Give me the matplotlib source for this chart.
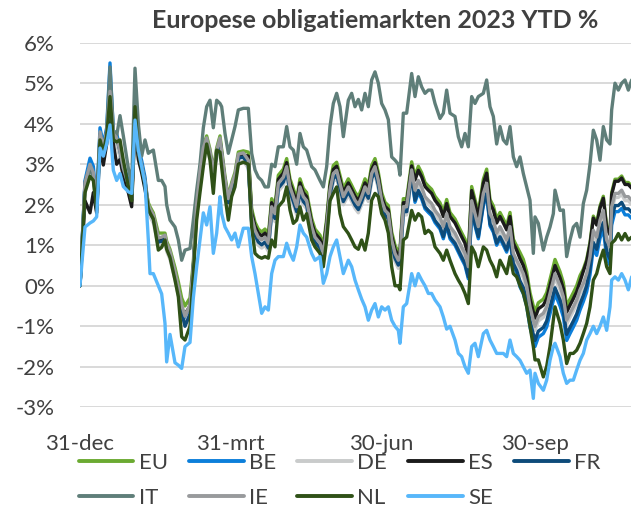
import matplotlib
matplotlib.use("Agg")
import matplotlib.pyplot as plt
import numpy as np
import pandas as pd

# ---------------- data ----------------
title = "Europese obligatiemarkten 2023 YTD %"
start_date = "2022-12-31"
days = [0, 3, 6, 8, 10, 12, 14, 16, 18, 20, 22, 24, 26, 29, 31, 33, 35, 37, 39,
        41, 42, 44, 47, 49, 51, 52, 54, 57, 59, 61, 63, 66, 68, 70, 72, 74, 76, 78, 80, 82, 84, 85, 87, 89, 91, 93, 95, 98,
        101, 103, 105, 107, 109, 111, 113, 115, 117, 119, 122, 124, 126, 128, 130, 132, 134, 136, 139, 141, 144, 146, 148, 150,
        152, 154, 156, 158, 161, 163, 165, 167, 169, 171, 173, 175, 177, 179, 181, 183, 185, 187, 189, 191, 192, 194, 196, 199,
        201, 203, 205, 207, 209, 211, 213, 216, 218, 220, 222, 225, 227, 229, 231, 233, 235, 237, 239, 242, 244, 246, 248, 250,
        252, 254, 256, 258, 260, 262,
        264, 266, 268, 270, 272, 273, 275, 278, 280, 282, 284, 285, 288, 290, 292, 294, 296, 298, 300,
        302, 304, 306, 308, 310, 312, 314, 316, 318, 319, 321, 323, 325, 327, 329, 331]

EU = [0, 2.45, 2.85, 2.65, 1.85, 3.65, 3.3, 3.7, 4.4, 3.63, 3.55, 3.22, 2.8, 2.4, 2.05, 4.12, 3.22, 2.89, 2.48,
      2.05, 1.95, 1.8, 1.3, 1.3, 1.3, 1.1, 0.9, 0.45, 0.1, -0.3, -0.5, -0.3, 0.6, 2.05, 2.87, 3.45, 3.7, 3.37, 2.87, 3.4, 3.7, 3.37, 2.7, 2.2, 2.55, 2.8, 3.3, 3.33,
      3.3, 1.9, 1.57, 1.4, 1.33, 1.4, 1.25, 2.15, 1.98, 2.73, 2.88, 3.14, 2.64, 2.4, 2.15, 2.64, 2.4, 2.3, 1.66, 1.4, 1.25, 1.0, 1.66, 2.56,
      2.97, 3.05, 2.73, 2.4, 2.64, 2.48, 2.31, 2.2, 2.4, 2.64, 2.48, 2.97, 3.14, 2.8, 2.3, 2.06, 1.98, 1.33, 1.0, 0.83, 0.92, 2.15, 2.15, 3.06,
      2.71, 2.95, 2.79, 2.55, 2.46, 2.38, 2.21, 2.05, 1.81, 2.13, 1.81, 1.65, 1.48, 1.31, 1.15, 0.82, 2.45, 2.13, 1.81, 2.63, 2.88, 2.13, 1.97, 1.65,
      1.81, 1.65, 1.48, 1.81, 1.15, 0.98,
      0.82, 0.65, 0.35, -0.17, -0.5, -0.65, -0.42, -0.33, -0.17, 0.16, 0.49, 0.65, 0.35, 0.08, -0.5, -0.33, -0.17, 0.0, 0.25,
      0.41, 0.65, 1.07, 1.72, 1.55, 1.97, 2.21, 1.48, 1.31, 2.3, 2.63, 2.63, 2.71, 2.55, 2.55, 2.46]

BE = [0, 2.6, 3.15, 2.95, 2.05, 3.9, 3.5, 3.9, 5.5, 3.83, 3.75, 3.42, 3.0, 2.6, 2.25, 4.32, 3.42, 3.09, 2.68,
      1.9, 1.8, 1.65, 1.08, 1.1, 1.15, 0.95, 0.75, 0.25, -0.15, -0.57, -0.9, -0.6, 0.42, 1.9, 2.72, 3.3, 3.55, 3.22, 2.72, 3.25, 3.55, 3.22, 2.55, 2.05, 2.4, 2.65, 3.15, 3.18,
      2.95, 1.55, 1.22, 1.05, 0.98, 1.05, 0.9, 1.8, 1.63, 2.38, 2.53, 2.79, 2.29, 2.05, 1.8, 2.29, 2.05, 1.95, 1.31, 1.05, 0.9, 0.65, 1.31, 2.21,
      2.62, 2.7, 2.38, 2.05, 2.29, 2.13, 1.96, 1.85, 2.05, 2.29, 2.13, 2.62, 2.79, 2.45, 1.95, 1.71, 1.63, 0.98, 0.65, 0.48, 0.57, 1.8, 1.8, 2.71,
      2.06, 2.3, 2.14, 1.9, 1.81, 1.73, 1.56, 1.4, 1.16, 1.48, 1.16, 1.0, 0.83, 0.66, 0.5, 0.17, 1.8, 1.48, 1.16, 1.98, 2.23, 1.48, 1.32, 1.0,
      1.16, 1.0, 0.83, 1.16, 0.5, 0.33,
      -0.03, -0.2, -0.5, -1.02, -1.35, -1.5, -1.27, -1.18, -1.02, -0.69, -0.36, -0.2, -0.5, -0.77, -1.35, -1.18, -1.02, -0.85, -0.6,
      -0.39, -0.15, 0.27, 0.92, 0.75, 1.17, 1.41, 0.68, 0.51, 1.5, 1.83, 1.83, 1.91, 1.75, 1.75, 1.66]

DE = [0, 2.4, 2.8, 2.6, 1.8, 3.6, 3.25, 3.65, 4.5, 3.58, 3.5, 3.17, 2.75, 2.35, 2.0, 4.07, 3.17, 2.84, 2.43,
      1.8, 1.7, 1.55, 0.98, 1.0, 1.05, 0.85, 0.65, 0.15, -0.25, -0.67, -0.95, -0.67, 0.32, 1.8, 2.62, 3.2, 3.45, 3.12, 2.62, 3.15, 3.45, 3.12, 2.45, 1.95, 2.3, 2.55, 3.05, 3.08,
      2.9, 1.5, 1.17, 1.0, 0.93, 1.0, 0.85, 1.75, 1.58, 2.33, 2.48, 2.74, 2.24, 2.0, 1.75, 2.24, 2.0, 1.9, 1.26, 1.0, 0.85, 0.6, 1.26, 2.16,
      2.57, 2.65, 2.33, 2.0, 2.24, 2.08, 1.91, 1.8, 2.0, 2.24, 2.08, 2.57, 2.74, 2.4, 1.9, 1.66, 1.58, 0.93, 0.6, 0.43, 0.52, 1.75, 1.75, 2.66,
      2.26, 2.5, 2.34, 2.1, 2.01, 1.93, 1.76, 1.6, 1.36, 1.68, 1.36, 1.2, 1.03, 0.86, 0.7, 0.37, 2.0, 1.68, 1.36, 2.18, 2.43, 1.68, 1.52, 1.2,
      1.36, 1.2, 1.03, 1.36, 0.7, 0.53,
      0.37, 0.2, -0.1, -0.62, -0.95, -1.1, -0.87, -0.78, -0.62, -0.29, 0.04, 0.2, -0.1, -0.37, -0.95, -0.78, -0.62, -0.45, -0.2,
      -0.04, 0.2, 0.62, 1.27, 1.1, 1.52, 1.76, 1.03, 0.86, 1.85, 2.18, 2.18, 2.26, 2.1, 2.1, 2.01]

ES = [0, 2.1, 1.8, 2.3, 1.8, 3.4, 2.98, 3.5, 4.3, 3.5, 3.0, 3.12, 2.7, 2.3, 1.95, 4.02, 3.12, 2.79, 2.38,
      1.95, 1.85, 1.7, 1.13, 1.15, 1.2, 1.0, 0.8, 0.3, -0.1, -0.6, -0.7, -0.5, 0.47, 1.95, 2.77, 3.35, 3.6, 3.27, 2.77, 3.3, 3.6, 3.27, 2.6, 2.1, 2.45, 2.7, 3.2, 3.23,
      3.2, 1.8, 1.47, 1.3, 1.23, 1.3, 1.15, 2.05, 1.88, 2.63, 2.78, 3.04, 2.54, 2.3, 2.05, 2.54, 2.3, 2.2, 1.56, 1.3, 1.15, 0.9, 1.56, 2.46,
      2.87, 2.95, 2.63, 2.3, 2.54, 2.38, 2.21, 2.1, 2.3, 2.54, 2.38, 2.87, 3.04, 2.7, 2.2, 1.96, 1.88, 1.23, 0.9, 0.73, 0.82, 2.05, 2.05, 2.96,
      2.61, 2.85, 2.69, 2.45, 2.36, 2.28, 2.11, 1.95, 1.71, 2.03, 1.71, 1.55, 1.38, 1.21, 1.05, 0.72, 2.35, 2.03, 1.71, 2.53, 2.78, 2.03, 1.87, 1.55,
      1.71, 1.55, 1.38, 1.71, 1.05, 0.88,
      0.67, 0.5, 0.2, -0.32, -0.65, -0.8, -0.57, -0.48, -0.32, 0.01, 0.34, 0.5, 0.2, -0.07, -0.65, -0.48, -0.32, -0.15, 0.1,
      0.36, 0.6, 1.02, 1.67, 1.5, 1.92, 2.16, 1.43, 1.26, 2.25, 2.58, 2.58, 2.66, 2.5, 2.5, 2.41]

FR = [0, 2.55, 2.95, 2.75, 1.95, 3.75, 3.4, 3.8, 4.65, 3.73, 3.65, 3.32, 2.9, 2.5, 2.15, 4.22, 3.32, 2.99, 2.58,
      1.9, 1.8, 1.65, 1.08, 1.1, 1.15, 0.95, 0.75, 0.25, -0.15, -0.65, -1.0, -0.7, 0.42, 1.9, 2.72, 3.3, 3.55, 3.22, 2.72, 3.25, 3.55, 3.22, 2.55, 2.05, 2.4, 2.65, 3.15, 3.18,
      2.98, 1.58, 1.25, 1.08, 1.01, 1.08, 0.93, 1.83, 1.66, 2.41, 2.56, 2.82, 2.32, 2.08, 1.83, 2.32, 2.08, 1.98, 1.34, 1.08, 0.93, 0.68, 1.34, 2.24,
      2.65, 2.73, 2.41, 2.08, 2.32, 2.16, 1.99, 1.88, 2.08, 2.32, 2.16, 2.65, 2.82, 2.48, 1.98, 1.74, 1.66, 1.01, 0.68, 0.51, 0.6, 1.83, 1.83, 2.74,
      2.11, 2.35, 2.19, 1.95, 1.86, 1.78, 1.61, 1.45, 1.21, 1.53, 1.21, 1.05, 0.88, 0.71, 0.55, 0.22, 1.85, 1.53, 1.21, 2.03, 2.28, 1.53, 1.37, 1.05,
      1.21, 1.05, 0.88, 1.21, 0.55, 0.38,
      0.12, -0.05, -0.35, -0.87, -1.2, -1.35, -1.12, -1.03, -0.87, -0.54, -0.21, -0.05, -0.35, -0.62, -1.2, -1.03, -0.87, -0.7, -0.45,
      -0.24, 0.0, 0.42, 1.07, 0.9, 1.32, 1.56, 0.83, 0.66, 1.65, 1.98, 1.98, 2.06, 1.9, 1.9, 1.81]

IT = [0, 2.4, 2.9, 2.7, 2.0, 3.7, 3.4, 3.8, 5.4, 3.84, 3.7, 4.2, 3.7, 2.9, 2.5, 5.37, 4.0, 3.2, 3.6,
      3.27, 3.3, 3.35, 2.6, 2.6, 2.45, 2.0, 1.62, 1.45, 1.13, 0.63, 0.88, 0.92, 1.62, 2.36, 3.0, 3.9, 4.42, 4.58, 3.9, 4.58, 4.5, 4.42, 3.76, 3.27, 3.6, 3.93, 4.34, 4.38,
      4.38, 3.27, 2.86, 2.68, 2.6, 2.44, 2.44, 3.0, 2.94, 3.43, 3.43, 3.93, 3.43, 3.35, 3.0, 3.76, 3.43, 3.35, 2.94, 2.86, 2.6, 2.44, 2.94, 3.93,
      4.5, 4.75, 4.42, 3.68, 4.58, 4.75, 4.42, 4.6, 4.34, 4.75, 4.42, 5.08, 5.28, 5.0, 4.5, 4.34, 4.1, 3.18, 3.1, 3.0, 2.73, 4.26, 4.26, 5.24,
      4.67, 5.16, 4.91, 4.75, 4.83, 4.83, 4.5, 4.13, 4.26, 4.83, 4.26, 4.18, 3.68, 3.43, 3.76, 3.43, 4.67, 4.5, 4.67, 4.75, 5.08, 4.42, 4.18, 3.5,
      3.93, 3.6, 3.5, 3.93, 3.18, 2.94,
      3.18, 2.77, 2.44, 2.11, 0.8, 1.7, 1.54, 0.88, 1.2, 1.45, 1.78, 2.36, 1.86, 1.87, 0.72, 1.13, 1.45, 1.54, 1.2,
      2.03, 2.36, 3.0, 3.84, 3.6, 3.1, 3.93, 3.6, 3.5, 4.34, 5.0, 4.83, 5.0, 5.08, 4.83, 5.08]

IE = [0, 2.55, 3.0, 2.8, 1.95, 3.8, 3.4, 3.8, 4.8, 3.75, 3.65, 3.32, 2.9, 2.5, 2.15, 4.25, 3.32, 2.99, 2.58,
      2.0, 1.9, 1.75, 1.18, 1.2, 1.25, 1.05, 0.85, 0.35, -0.05, -0.47, -0.75, -0.47, 0.52, 2.0, 2.82, 3.4, 3.65, 3.32, 2.82, 3.35, 3.65, 3.32, 2.65, 2.15, 2.5, 2.75, 3.25, 3.28,
      3.1, 1.7, 1.37, 1.2, 1.13, 1.2, 1.05, 1.95, 1.78, 2.53, 2.68, 2.94, 2.44, 2.2, 1.95, 2.44, 2.2, 2.1, 1.46, 1.2, 1.05, 0.8, 1.46, 2.36,
      2.77, 2.85, 2.53, 2.2, 2.44, 2.28, 2.11, 2.0, 2.2, 2.44, 2.28, 2.77, 2.94, 2.6, 2.1, 1.86, 1.78, 1.13, 0.8, 0.63, 0.72, 1.95, 1.95, 2.86,
      2.36, 2.6, 2.44, 2.2, 2.11, 2.03, 1.86, 1.7, 1.46, 1.78, 1.46, 1.3, 1.13, 0.96, 0.8, 0.47, 2.1, 1.78, 1.46, 2.28, 2.53, 1.78, 1.62, 1.3,
      1.46, 1.3, 1.13, 1.46, 0.8, 0.63,
      0.47, 0.3, 0.0, -0.52, -0.85, -1.0, -0.77, -0.68, -0.52, -0.19, 0.14, 0.3, 0.0, -0.27, -0.85, -0.68, -0.52, -0.35, -0.1,
      0.06, 0.3, 0.72, 1.37, 1.2, 1.62, 1.86, 1.13, 0.96, 1.95, 2.28, 2.28, 2.36, 2.2, 2.2, 2.11]

NL = [0, 2.3, 2.7, 2.6, 1.9, 3.6, 3.3, 3.7, 4.67, 3.6, 3.55, 3.6, 3.1, 2.45, 2.1, 4.42, 3.3, 2.9, 2.5,
      1.9, 1.8, 1.65, 0.88, 0.95, 1.13, 0.9, 0.7, 0.14, -0.27, -1.26, -1.34, -1.0, 0.3, 1.62, 2.3, 2.94, 3.5, 3.1, 2.28, 3.35, 3.3, 2.94, 2.2, 1.62, 2.2, 2.44, 3.0, 3.05,
      3.0, 1.45, 0.8, 0.72, 0.68, 0.72, 0.68, 1.13, 0.96, 1.95, 2.1, 2.44, 1.87, 1.54, 1.62, 1.95, 1.62, 1.78, 1.13, 0.96, 0.8, 0.47, 1.13, 2.1,
      2.28, 2.44, 1.78, 1.46, 1.29, 1.13, 0.96, 0.9, 1.13, 0.88, 1.3, 2.11, 2.28, 2.2, 1.78, 1.62, 1.3, 0.47, 0.0, 0.0, -0.1, 1.13, 1.2, 1.86,
      1.62, 1.78, 1.7, 1.29, 1.37, 1.29, 0.96, 0.8, 0.63, 0.88, 0.63, 0.3, 0.14, 0.0, -0.19, -0.44, 0.96, 0.8, 0.47, 0.96, 0.88, 0.63, 0.47, 0.22,
      0.63, 0.47, 0.3, 0.72, 0.3, 0.22,
      0.0, -0.19, -0.52, -1.0, -1.5, -1.83, -1.83, -2.25, -1.99, -1.5, -0.85, -0.52, -0.93, -1.34, -1.92, -1.67, -1.67, -1.59, -1.42,
      -1.18, -0.93, -0.52, 0.14, 0.3, 0.63, 0.88, 0.47, 0.3, 1.05, 1.13, 1.29, 1.13, 1.29, 1.13, 1.2]

SE = [0, 1.45, 1.55, 1.6, 1.7, 3.4, 3.2, 3.5, 3.97, 2.85, 2.6, 2.77, 2.45, 2.32, 2.28, 4.09, 3.35, 2.94, 2.53,
      1.13, 0.3, 0.3, 0.0, -0.2, -0.93, -1.88, -1.2, -1.9, -1.96, -2.04, -1.5, -1.4, -0.3, 0.47, 1.13, 1.8, 1.5, 1.95, 0.8, 1.3, 2.2, 1.78, 1.45, 1.3, 1.13, 1.3, 0.96, 1.42,
      1.42, 0.72, 0.3, -0.19, -0.68, -0.52, -0.6, 0.3, 0.63, 0.72, 0.72, 1.05, 0.8, 0.63, 0.96, 1.5, 1.3, 1.2, 0.8, 0.63, 0.72, 0.06, 0.3, 0.72,
      0.96, 1.13, 0.72, 0.3, 0.63, 0.47, 0.14, -0.1, -0.33, -0.52, -0.85, -0.6, -0.44, -0.77, -0.52, -0.6, -0.52, -0.85, -1.0, -1.1, -1.42, -0.52, -0.44, 0.3,
      0.0, 0.3, 0.14, 0.0, -0.19, -0.19, -0.35, -0.52, -0.77, -1.07, -1.0, -1.34, -1.67, -1.75, -2.0, -2.16, -1.5, -1.42, -1.75, -1.18, -1.1, -1.34, -1.5, -1.67,
      -1.67, -1.67, -1.75, -1.34, -1.67, -1.75,
      -1.84, -2.0, -2.16, -2.08, -2.78, -2.16, -2.41, -2.58, -2.33, -1.84, -1.5, -1.42, -1.75, -2.16, -2.41, -2.33, -2.33, -2.08, -1.84,
      -1.67, -1.34, -1.18, -1.0, -1.18, -1.0, -0.77, -1.1, -0.52, 0.14, 0.22, 0.14, 0.3, 0.14, -0.1, 0.22]

series_names = ["EU", "BE", "DE", "ES", "FR", "IT", "IE", "NL", "SE"]
series_values = [EU, BE, DE, ES, FR, IT, IE, NL, SE]

tick_dates = ["2022-12-31", "2023-03-31", "2023-06-30", "2023-09-30"]
tick_labels = ["31-dec", "31-mrt", "30-jun", "30-sep"]
y_ticks = [-3, -2, -1, 0, 1, 2, 3, 4, 5, 6]

# ---------------- style ----------------
colors = {
    "EU": "#6BAA31", "BE": "#0C7FDA", "DE": "#C9CBCB", "ES": "#1B1B1B",
    "FR": "#0D4B7A", "IT": "#5F7E79", "IE": "#989A9C", "NL": "#2F5117",
    "SE": "#57B7FA",
}
txt = "#404040"
font = "Lato"
fs = 16

W, H = 631, 507
fig = plt.figure(figsize=(W / 100, H / 100), dpi=100)
ax = fig.add_axes([80 / W, (H - 407.3) / H, 1 - 80 / W, (407.3 - 42.7) / H])

base = pd.Timestamp(start_date)
dates = [base + pd.Timedelta(days=d) for d in days]

lines = {}
for name, vals in zip(series_names, series_values):
    lines[name], = ax.plot(dates, vals, color=colors[name], lw=2.4,
                           solid_joinstyle="round", solid_capstyle="round",
                           label=name, zorder=3)

ax.set_ylim(-3, 6)
ax.set_xlim(base, base + pd.Timedelta(days=330.6))
ax.set_yticks(y_ticks)
ax.set_yticklabels([f"{v}%" for v in y_ticks])
ax.set_xticks([pd.Timestamp(t) for t in tick_dates])
ax.set_xticklabels(tick_labels)
ax.grid(axis="y", color="#D9D9D9", lw=1.4, zorder=0)
ax.grid(axis="x", visible=False)
for s in ax.spines.values():
    s.set_visible(False)
ax.tick_params(axis="both", length=0, colors=txt, labelsize=fs)
ax.tick_params(axis="y", pad=18)
ax.tick_params(axis="x", pad=19)
for lab in ax.get_xticklabels() + ax.get_yticklabels():
    lab.set_fontfamily(font)

fig.text(375 / W, 1 - 21 / H, title, ha="center", va="center",
         fontsize=18, fontweight="bold", color=txt, family=font)

# legend laid out row-wise (two rows, five columns)
legend_order = ["EU", "IT", "BE", "IE", "DE", "NL", "ES", "SE", "FR"]
handles = [lines[n] for n in legend_order]
leg = fig.legend(handles, legend_order, ncol=5, loc="upper left",
                 bbox_to_anchor=(79 / W, 1 - 453 / H), frameon=False,
                 handlelength=2.45, handletextpad=0.25, columnspacing=0.95,
                 labelspacing=0.68, borderaxespad=0, borderpad=0,
                 prop={"family": font, "size": fs})
for t in leg.get_texts():
    t.set_color(txt)
for l in leg.get_lines():
    l.set_linewidth(2.8)

fig.savefig("out.png", dpi=100)
